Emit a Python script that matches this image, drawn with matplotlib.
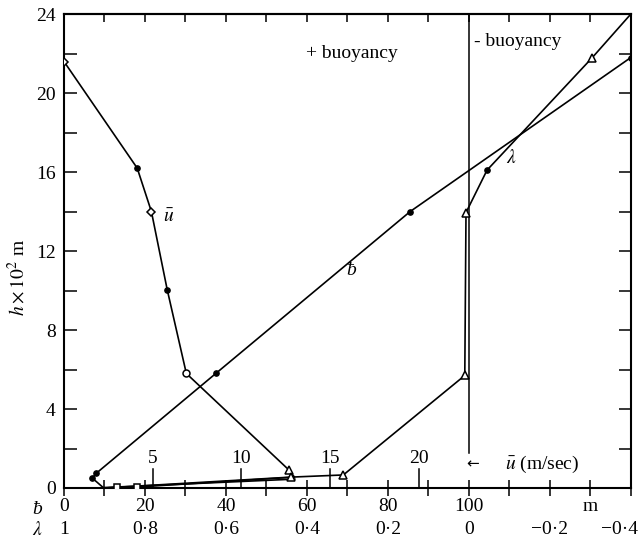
import numpy as np
import matplotlib
matplotlib.use("Agg")
import matplotlib.pyplot as plt
import matplotlib.transforms as mtransforms

plt.rcParams['font.family'] = ['Liberation Serif', 'DejaVu Serif']
plt.rcParams['mathtext.fontset'] = 'stix'

# velocity profile (m/sec) vs height (x10^2 m)
u_vals = [0.0, 4.13, 4.93, 5.82, 6.9, 12.7, 13.0, 4.13, 3.0, 2.3]
u_h = [21.6, 16.2, 14.0, 10.05, 5.8, 0.9, 0.55, 0.05, 0.03, 0.0]
u_marks = ['D', '.', 'D', '.', 'o', '^', None, 's', 's', None]

# buoyancy b
b_vals = [57.0, 9.7, 7.0, 8.0, 37.5, 85.5, 140.0]
b_h = [0.45, 0.02, 0.5, 0.75, 5.8, 14.0, 21.8]
b_marks = [None, None, '.', '.', '.', '.', '.']

# lambda
lam_vals = [-0.4, -0.305, -0.045, 0.007, 0.01, 0.31, 0.44, 0.9]
lam_h = [24.0, 21.8, 16.1, 13.95, 5.7, 0.66, 0.55, 0.0]
lam_marks = [None, '^', '.', '^', '^', '^', '^', None]

u_ticks = [5, 10, 15, 20]
lam_ticks = [1, 0.8, 0.6, 0.4, 0.2, 0, -0.2, -0.4]
lam_ticklabels = ['1', '0·8', '0·6', '0·4', '0·2', '0', '−0·2', '−0·4']

U_SCALE = 4.38  # b units per m/sec on the common axis
FS = 14


def lam_to_b(l):
    return 100.0 * (1.0 - np.asarray(l))


fig = plt.figure(figsize=(6.43, 5.43), dpi=100)
ax = fig.add_axes([0.0995, 0.1013, 0.8815, 0.8727])
ax.set_xlim(0, 140)
ax.set_ylim(0, 24)

lw = 1.2
ms = dict(color='black', markerfacecolor='white', markeredgecolor='black', markeredgewidth=1.1)


def draw(xs, ys, marks):
    ax.plot(xs, ys, color='black', lw=lw, zorder=2)
    for x, y, m in zip(xs, ys, marks):
        if m is None:
            continue
        if m == '.':
            ax.plot(x, y, marker='o', markersize=3.8, color='black', zorder=3)
        else:
            size = {'D': 4.5, 'o': 5, '^': 5.5, 's': 4}[m]
            ax.plot(x, y, marker=m, markersize=size, linestyle='none', zorder=3, **ms)


draw(np.array(u_vals) * U_SCALE, u_h, u_marks)
draw(b_vals, b_h, b_marks)
draw(lam_to_b(lam_vals), lam_h, lam_marks)

# zero line of lambda (buoyancy change)
ax.plot([100, 100], [1.75, 24], color='black', lw=1.1)

# inner u scale
for t in u_ticks:
    ax.plot([t * U_SCALE, t * U_SCALE], [0, 0.95], color='black', lw=1.1)
    ax.text(t * U_SCALE, 1.05, str(t), ha='center', va='bottom', fontsize=FS)
ax.text(99.3, 1.2, '←', ha='left', va='center', fontsize=11, family=['DejaVu Sans'])
ax.text(109, 1.2, r'$\bar{u}$ (m/sec)', ha='left', va='center', fontsize=FS)

# curve labels
ax.text(24.5, 13.7, r'$\bar{u}$', ha='left', va='center', fontsize=FS)
ax.text(71, 11.0, 'ƀ', ha='center', va='center', fontsize=FS, style='italic')
ax.text(110.5, 16.7, r'$\lambda$', ha='center', va='center', fontsize=FS)
ax.text(71, 22.0, '+ buoyancy', ha='center', va='center', fontsize=FS)
ax.text(101.3, 22.6, '- buoyancy', ha='left', va='center', fontsize=FS)

# ticks
xt = list(range(0, 141, 10))
xl = []
for v in xt:
    if v <= 100 and v % 20 == 0:
        xl.append(str(v))
    elif v == 130:
        xl.append('m')
    else:
        xl.append('')
ax.set_xticks(xt)
ax.set_xticklabels(xl, fontsize=FS)
ax.set_yticks(range(0, 25, 2))
ax.set_yticklabels([str(v) if v % 4 == 0 else '' for v in range(0, 25, 2)], fontsize=FS)
ax.tick_params(axis='x', direction='inout', length=12, width=1.1, pad=1)
ax.tick_params(axis='y', direction='in', length=9, width=1.1, right=True, pad=6)

top = ax.secondary_xaxis('top')
top.set_xticks(xt)
top.set_xticklabels([])
top.tick_params(direction='in', length=5.5, width=1.1)
top.spines['top'].set_linewidth(1.5)

for sp in ax.spines.values():
    sp.set_linewidth(1.5)

# lambda row under the b row
trans = mtransforms.blended_transform_factory(ax.transData, fig.transFigure)
for lt, ll in zip(lam_ticks, lam_ticklabels):
    xb = float(lam_to_b(lt))
    ha = 'center'
    if lt == -0.4:
        ha = 'right'
        xb = 141.8
    ax.text(xb, 1 - 530 / 543, ll, transform=trans, ha=ha, va='center', fontsize=FS,
            clip_on=False)
fig.text(37 / 643, 1 - 509 / 543, 'ƀ', ha='center', va='center', fontsize=FS, style='italic')
fig.text(37 / 643, 1 - 530 / 543, r'$\lambda$', ha='center', va='center', fontsize=FS)

fig.text(18 / 643, 1 - 277 / 543, r'$h \times 10^2$ m', rotation=90, ha='center',
         va='center', fontsize=FS)

fig.savefig('out.png', dpi=100)
